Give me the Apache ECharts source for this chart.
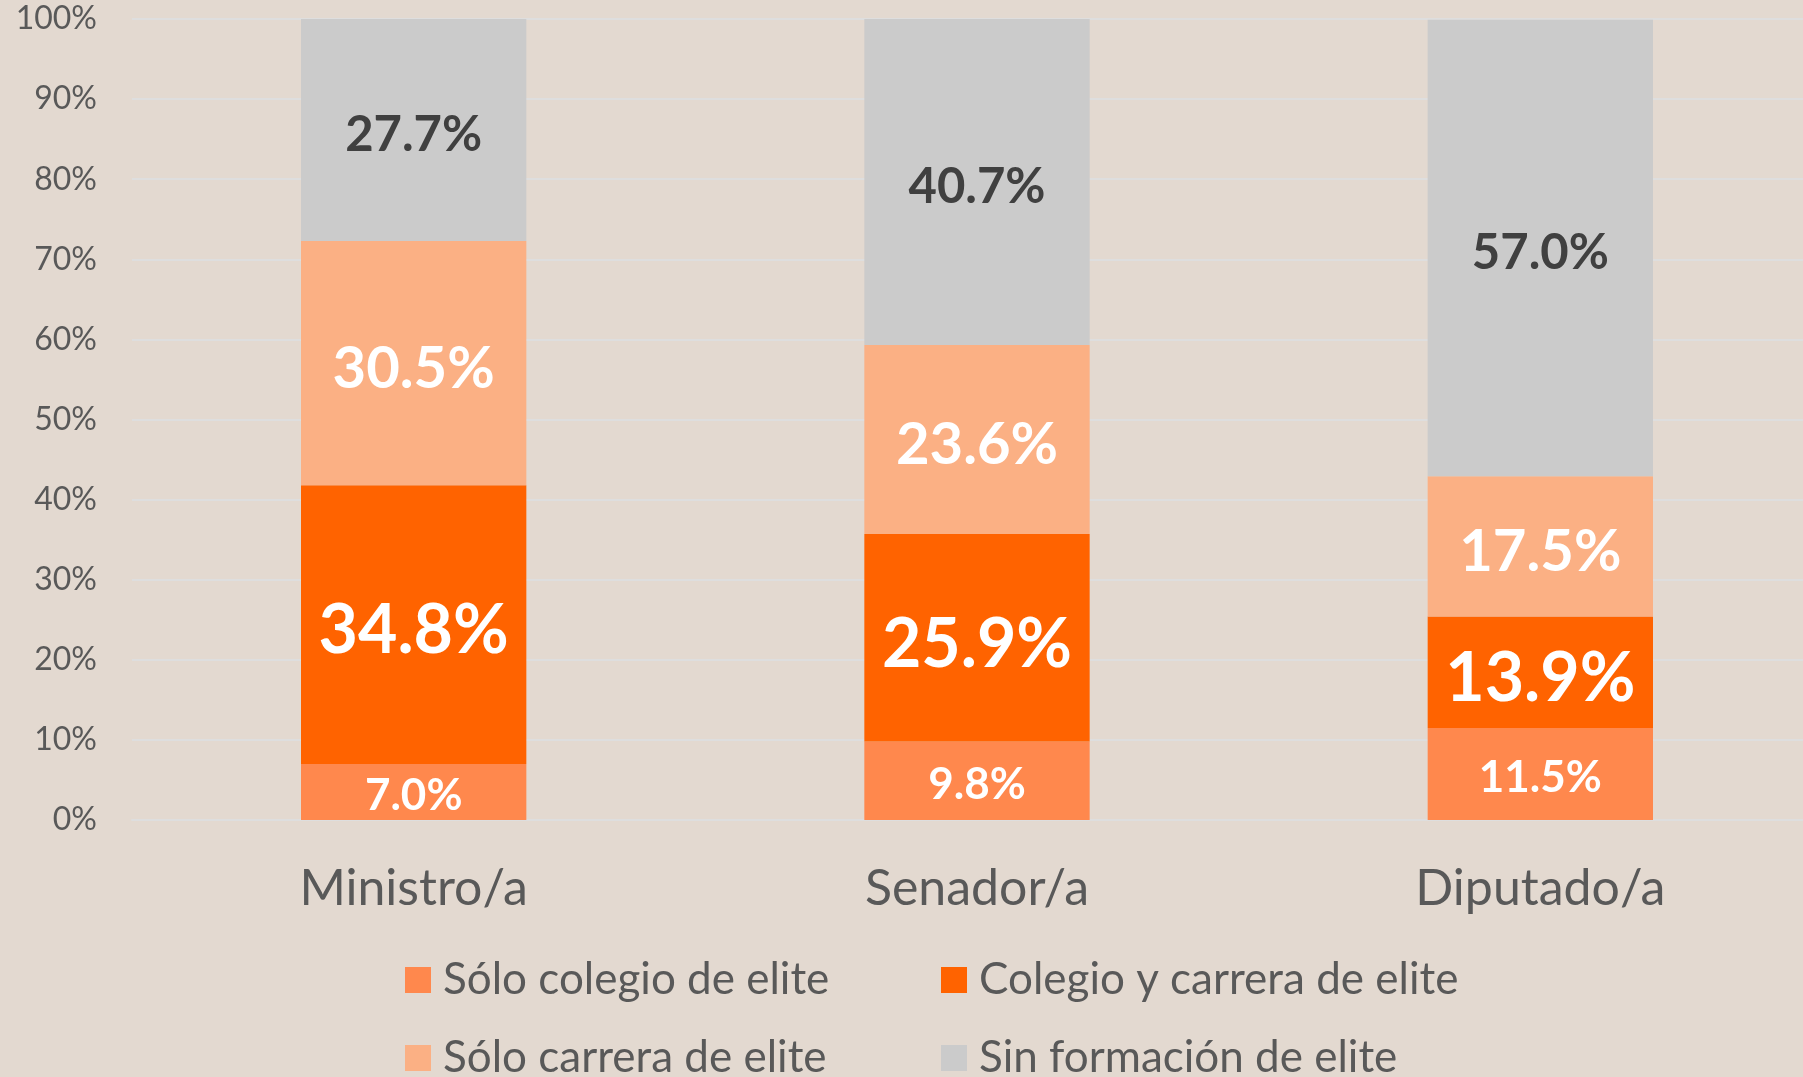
<!DOCTYPE html>
<html>
<head>
<meta charset="utf-8">
<title>Formación de elite</title>
<script src="https://cdn.jsdelivr.net/npm/echarts@6/dist/echarts.min.js"></script>
<style>
  html, body { margin: 0; padding: 0; background: #e3d9d0; overflow: hidden; }
  /* un poco más ancho que la ventana: las líneas de la grilla llegan al borde */
  #main { width: 1823px; height: 1077px; }
</style>
</head>
<body>
<div id="main"></div>
<script>
  // categorías y valores (%)
  const cargos = ['Ministro/a', 'Senador/a', 'Diputado/a'];
  const soloColegio = [7.0, 9.8, 11.5];
  const colegioYCarrera = [34.8, 25.9, 13.9];
  const soloCarrera = [30.5, 23.6, 17.5];
  const sinFormacion = [27.7, 40.7, 57.0];
  const yTicks = [0, 10, 20, 30, 40, 50, 60, 70, 80, 90, 100];

  const fontFam = 'Lato';
  const pct = p => p.value.toFixed(1) + '%';

  function serie(name, data, color, size, textColor) {
    return {
      name: name,
      type: 'bar',
      stack: 'total',
      barWidth: '40%',
      data: data,
      itemStyle: { color: color },
      label: {
        show: true,
        position: 'inside',
        offset: [0, Math.round(size * 0.1)],
        formatter: pct,
        fontFamily: fontFam,
        fontWeight: 'bold',
        fontSize: size,
        color: textColor
      }
    };
  }

  // una leyenda por item, para que queden en dos columnas
  function leyenda(name, left, top) {
    return {
      left: left, top: top,
      itemWidth: 26, itemHeight: 26,
      icon: 'rect',
      data: [name],
      textStyle: { fontFamily: fontFam, fontSize: 44, color: '#595959', padding: [0, 0, 0, 7] }
    };
  }

  let chart = echarts.init(document.getElementById('main'));
  chart.setOption({
    backgroundColor: '#e3d9d0',
    animation: false,
    grid: { left: 132, top: 19, right: 1, height: 801, containLabel: false },
    legend: [
      leyenda('Sólo colegio de elite', 400, 953),
      leyenda('Colegio y carrera de elite', 936, 953),
      leyenda('Sólo carrera de elite', 400, 1031),
      leyenda('Sin formación de elite', 936, 1031)
    ],
    xAxis: {
      type: 'category',
      data: cargos,
      axisTick: { show: false },
      axisLine: { lineStyle: { color: '#dedede', width: 2 } },
      axisLabel: { margin: 44, fontFamily: fontFam, fontSize: 50, color: '#595959' }
    },
    yAxis: {
      type: 'value',
      min: yTicks[0],
      max: yTicks[yTicks.length - 1],
      interval: 10,
      axisLabel: { formatter: '{value}%', margin: 35, fontFamily: fontFam, fontSize: 32, color: '#595959' },
      splitLine: { lineStyle: { color: '#dedede', width: 2 } }
    },
    series: [
      serie('Sólo colegio de elite', soloColegio, '#ff884d', 44, '#ffffff'),
      serie('Colegio y carrera de elite', colegioYCarrera, '#ff6300', 68, '#ffffff'),
      serie('Sólo carrera de elite', soloCarrera, '#fbb084', 58, '#ffffff'),
      serie('Sin formación de elite', sinFormacion, '#cbcbcb', 49, '#404040')
    ]
  });
</script>
</body>
</html>
